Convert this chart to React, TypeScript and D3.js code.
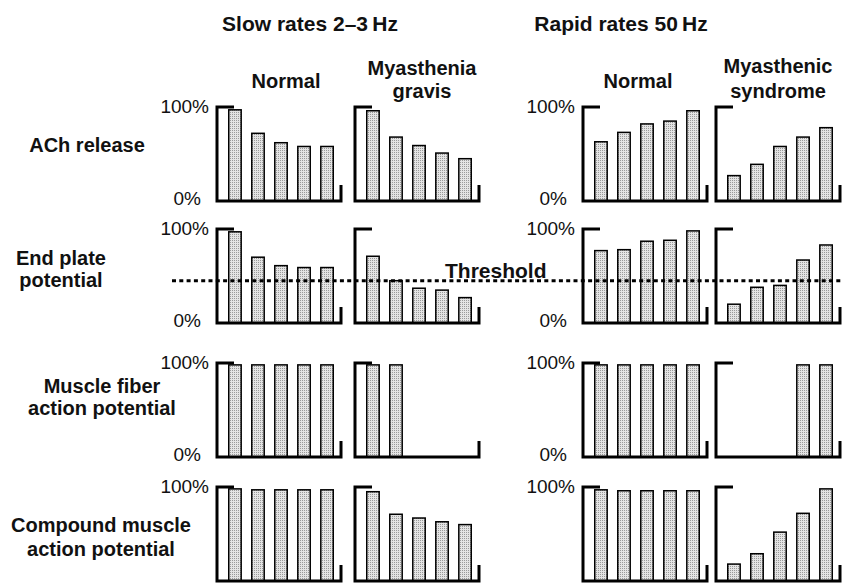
import React from "react";
import * as d3 from "d3";

// ---------- data ----------
const groupTitles = ["Slow rates 2–3\u2009Hz", "Rapid rates 50\u2009Hz"];
const conditionLabels = [["Normal"], ["Myasthenia", "gravis"], ["Normal"], ["Myasthenic", "syndrome"]];
const measureLabels = [
  ["ACh release"],
  ["End plate", "potential"],
  ["Muscle fiber", "action potential"],
  ["Compound muscle", "action potential"],
];
const stimuli = ["1", "2", "3", "4", "5"];
const tickLabels = ["0%", "100%"];
const thresholdLabel = "Threshold";
const thresholdValue = 45;

// values in % for each condition column (Normal slow, MG, Normal rapid, LEMS)
const achRelease = [
  [97, 72, 62, 58, 58],
  [96, 68, 59, 51, 45],
  [63, 73, 82, 85, 96],
  [27, 39, 58, 68, 78],
];
const endPlatePotential = [
  [97, 70, 61, 59, 59],
  [71, 45, 37, 35, 27],
  [77, 78, 87, 88, 98],
  [20, 38, 40, 67, 83],
];
const muscleFiberAP = [
  [98, 98, 98, 98, 98],
  [98, 98, 0, 0, 0],
  [98, 98, 98, 98, 98],
  [0, 0, 0, 98, 98],
];
const compoundMuscleAP = [
  [98, 97, 97, 97, 97],
  [95, 71, 67, 63, 60],
  [97, 96, 96, 96, 96],
  [18, 29, 52, 72, 98],
];
const measures = [achRelease, endPlatePotential, muscleFiberAP, compoundMuscleAP];

// ---------- layout ----------
const W = 842;
const H = 585;
const panelLeft = [217, 355, 583, 716];
const panelWidth = 124;
const rowTop = [107, 229, 363, 487];
const panelHeight = 94;
const labelCols = [0, 2];
const groupTitleX = [310, 621];
const conditionX = [286, 422, 638, 778];
const conditionBaselines = [[88], [75, 98], [88], [73, 98]];
const measureX = [87, 61, 102, 101];
const measureBaselines = [[152], [265, 287], [393, 415], [532, 556]];
const font = "'Liberation Sans', Arial, Helvetica, sans-serif";

export default function App() {
  const x = d3
    .scaleBand<string>()
    .domain(stimuli)
    .range([6, 122])
    .paddingInner(0.46)
    .paddingOuter(0.25);

  const yFor = (r: number) =>
    d3.scaleLinear().domain([0, 100]).range([rowTop[r] + panelHeight, rowTop[r]]);

  const yThr = yFor(1)(thresholdValue);

  return (
    <svg
      width={W}
      height={H}
      viewBox={`0 0 ${W} ${H}`}
      style={{ position: "absolute", left: 0, top: 0, background: "#fff" }}
      fontFamily={font}
    >
      <defs>
        <pattern id="stipple" width={2} height={2} patternUnits="userSpaceOnUse">
          <rect width={2} height={2} fill="#e4e4e4" />
          <rect x={0} y={0} width={1} height={1} fill="#9a9a9a" />
        </pattern>
      </defs>
      <rect width={W} height={H} fill="#fff" />

      {/* group titles */}
      {groupTitles.map((t, i) => (
        <text key={t} x={groupTitleX[i]} y={31} textAnchor="middle" fontWeight="bold" fontSize={21} fill="#111">
          {t}
        </text>
      ))}

      {/* condition titles */}
      {conditionLabels.map((lines, c) =>
        lines.map((ln, j) => (
          <text
            key={`c${c}-${j}`}
            x={conditionX[c]}
            y={conditionBaselines[c][j]}
            textAnchor="middle"
            fontWeight="bold"
            fontSize={20}
            fill="#111"
          >
            {ln}
          </text>
        ))
      )}

      {/* measure labels */}
      {measureLabels.map((lines, r) =>
        lines.map((ln, j) => (
          <text
            key={`m${r}-${j}`}
            x={measureX[r]}
            y={measureBaselines[r][j]}
            textAnchor="middle"
            fontWeight="bold"
            fontSize={20}
            fill="#111"
          >
            {ln}
          </text>
        ))
      )}

      {/* panels */}
      {measures.map((rowData, r) => {
        const y = yFor(r);
        const bottom = y(0);
        const top = y(100);
        return (
          <g key={`row${r}`}>
            {rowData.map((vals, c) => {
              const x0 = panelLeft[c];
              return (
                <g key={`p${r}-${c}`}>
                  {vals.map((v, i) =>
                    v > 0 ? (
                      <rect
                        key={i}
                        x={x0 + (x(stimuli[i]) as number)}
                        y={y(v)}
                        width={x.bandwidth()}
                        height={bottom - y(v)}
                        fill="url(#stipple)"
                        stroke="#000"
                        strokeWidth={1.5}
                      />
                    ) : null
                  )}
                  <path
                    d={`M${x0 + 17},${top} L${x0},${top} L${x0},${bottom} L${x0 + panelWidth},${bottom} L${x0 + panelWidth},${bottom - 16}`}
                    fill="none"
                    stroke="#000"
                    strokeWidth={3}
                  />
                </g>
              );
            })}
            {labelCols.map((c) => (
              <g key={`t${r}-${c}`} fontSize={19} fill="#111">
                <text x={panelLeft[c] - 8} y={top + 6} textAnchor="end">
                  {tickLabels[1]}
                </text>
                {bottom + 4 < H - 8 ? (
                  <text x={panelLeft[c] - 16} y={bottom + 4} textAnchor="end">
                    {tickLabels[0]}
                  </text>
                ) : null}
              </g>
            ))}
          </g>
        );
      })}

      {/* threshold */}
      <line x1={172} x2={W} y1={yThr} y2={yThr} stroke="#000" strokeWidth={3} strokeDasharray="4 3.3" />
      <text x={445} y={278} fontWeight="bold" fontSize={21} fill="#111">
        {thresholdLabel}
      </text>
    </svg>
  );
}
